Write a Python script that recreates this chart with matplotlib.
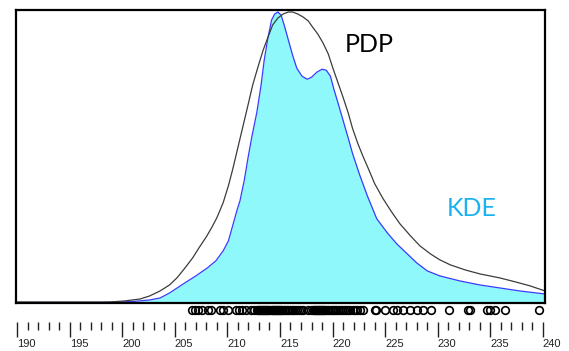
import matplotlib
matplotlib.use("Agg")
import matplotlib.pyplot as plt
from matplotlib.ticker import MultipleLocator

# KDE curve (age in Ma, relative height)
kde_x = [190, 195, 198, 199.8, 201.0, 202.6, 203.6, 204.5, 205.8, 207.0, 208.1, 208.9,
         209.6, 210.1, 210.5, 210.9, 211.2, 211.6, 212.0, 212.35, 212.8, 213.2, 213.5,
         213.85, 214.2, 214.5, 214.8, 215.1, 215.4, 215.8, 216.2, 216.6, 217.1, 217.6,
         218.0, 218.5, 219.0, 219.4, 219.8, 220.1, 220.5, 221.0, 221.5, 221.9, 222.6,
         223.3, 224.2, 225.2, 226.1, 227.1, 228.0, 229.0, 230.2, 232.1, 234.0, 235.9,
         237.8, 240.2]
kde_y = [0.5, 0.5, 0.5, 1, 1.5, 3, 5, 10, 19, 27, 35, 42,
         52, 62, 77, 92, 102, 122, 147, 167, 190, 217, 242,
         264, 282, 288, 290, 287, 277, 262, 247, 234, 226, 223,
         225, 230, 233, 232, 226, 214, 200, 182, 164, 149, 127,
         107, 84, 70, 59, 49, 40, 32, 27, 22, 18, 15,
         12, 9]

# PDP curve
pdp_x = [190, 196, 198.8, 200.2, 201.7, 202.6, 203.6, 204.5, 205.2, 205.9, 206.7, 207.3,
         208.0, 208.5, 209.0, 209.6, 210.1, 210.5, 211.0, 211.5, 212.0, 212.4, 212.9,
         213.4, 213.9, 214.3, 214.8, 215.3, 215.8, 216.2, 216.7, 217.2, 217.7, 218.1,
         218.6, 219.1, 219.6, 220.0, 220.5, 221.0, 221.5, 221.9, 222.4, 222.9, 223.4,
         224.0, 224.8, 225.6, 226.4, 227.4, 228.3, 229.3, 230.2, 231.2, 232.6, 234.0,
         235.9, 237.4, 238.8, 240.2]
pdp_y = [1, 1, 1, 2, 4, 7, 12, 18, 25, 34, 45, 55,
         66, 75, 85, 100, 117, 133, 155, 177, 199, 217, 235,
         252, 266, 277, 284, 288, 290, 290, 288, 285, 281, 275,
         268, 259, 248, 235, 220, 205, 189, 174, 159, 146, 134,
         119, 104, 91, 79, 67, 57, 49, 43, 38, 33, 29,
         25, 21, 17, 12]

# individual ages (circles under the plot)
ages = [206.6, 206.9, 207.2, 207.6, 208.2, 208.4, 209.3, 209.6, 210.1, 210.8, 211.1,
        211.4, 211.8, 212.2, 212.5,
        212.8, 212.9, 213.0, 213.1, 213.2, 213.3, 213.4, 213.5, 213.6, 213.7, 213.8,
        213.9, 214.0, 214.1, 214.2, 214.3, 214.4, 214.5, 214.6, 214.7, 214.8, 214.9,
        215.0, 215.1, 215.2, 215.35, 215.5, 215.65, 215.8, 215.95, 216.1, 216.25, 216.4,
        216.6, 216.8, 217.0, 217.2,
        217.7, 217.95, 218.1, 218.2, 218.3, 218.4, 218.5, 218.6, 218.7, 218.8, 218.9,
        219.0, 219.1, 219.2, 219.3, 219.45, 219.6, 219.75, 219.9, 220.05, 220.2, 220.35,
        220.5, 220.7, 220.9, 221.1, 221.3, 221.5, 221.7, 221.9, 222.1, 222.3, 222.6,
        222.9, 224.0, 224.1, 225.0, 225.7, 226.1, 226.7, 227.4, 228.0, 228.6, 229.4,
        231.1, 232.9, 233.1, 234.7, 235.0, 235.4, 236.4, 239.6]

W, H = 569, 351
fig = plt.figure(figsize=(W / 100, H / 100), dpi=100)

ax = fig.add_axes([16 / W, (H - 303) / H, 529 / W, 293 / H])
ax.fill_between(kde_x, kde_y, 0, color="#8ef8fb", lw=0)
ax.plot(kde_x, kde_y, color="#3a3aff", lw=0.9)
ax.plot(pdp_x, pdp_y, color="#3c3c3c", lw=0.9)
ax.set_xlim(189.9, 240.2)
ax.set_ylim(0, 292)
ax.set_xticks([])
ax.set_yticks([])
for sp in ax.spines.values():
    sp.set_linewidth(1.6)
    sp.set_color("black")

ax.text(221.2, 250, "PDP", fontsize=18, family="Lato", color="black")
ax.text(230.9, 87, "KDE", fontsize=18, family="Lato", color="#1ab2f0")

# lower strip: data circles + age scale
ax2 = fig.add_axes([16 / W, (H - 322) / H, 529 / W, 17 / H])
ax2.plot(ages, [12] * len(ages), "o", ms=5.5, mfc="none", mec="black", mew=1.2, clip_on=False)
ax2.set_xlim(189.9, 240.2)
ax2.set_ylim(0, 17)
ax2.set_yticks([])
for sp in ax2.spines.values():
    sp.set_visible(False)
ax2.xaxis.set_major_locator(MultipleLocator(5))
ax2.xaxis.set_minor_locator(MultipleLocator(1))
ax2.tick_params(axis="x", which="major", length=10.5, width=1.0, color="#222222",
                labelsize=8, pad=2, labelcolor="#222222")
ax2.tick_params(axis="x", which="minor", length=5.8, width=1.0, color="#222222")
for lbl in ax2.get_xticklabels():
    lbl.set_horizontalalignment("left")
    lbl.set_family("Liberation Sans")

fig.savefig("out.png", dpi=100)
